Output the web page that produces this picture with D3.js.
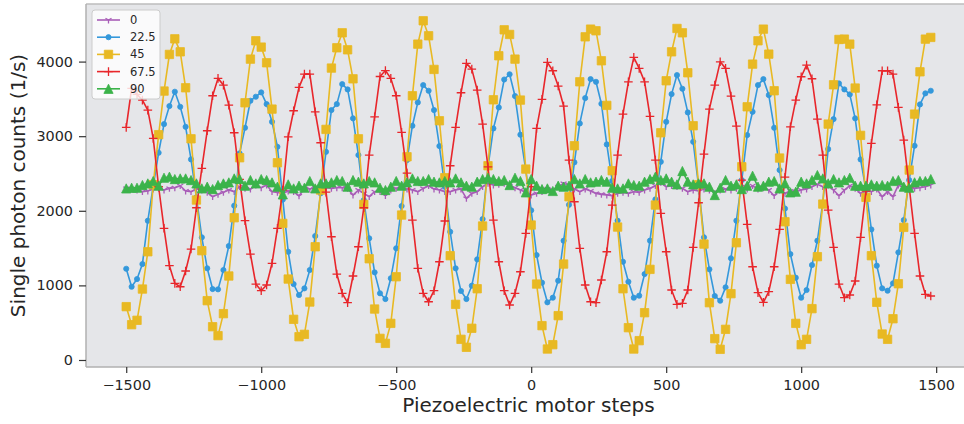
<!DOCTYPE html>
<html>
<head>
<meta charset="utf-8">
<script src="https://cdn.jsdelivr.net/npm/d3@7/dist/d3.min.js"></script>
<style>
    body { margin: 0; background: #fff; }
    svg text { font-family: "DejaVu Sans", sans-serif; fill: #262626; }
</style>
</head>
<body>
<div id="chart"></div>
<script>
// passi del motore piezoelettrico (asse x)
const steps = [
    -1500, -1480, -1460, -1440, -1420, -1400, -1380, -1360, -1340, -1320,
    -1300, -1280, -1260, -1240, -1220, -1200, -1180, -1160, -1140, -1120,
    -1100, -1080, -1060, -1040, -1020, -1000, -980, -960, -940, -920,
    -900, -880, -860, -840, -820, -800, -780, -760, -740, -720,
    -700, -680, -660, -640, -620, -600, -580, -560, -540, -520,
    -500, -480, -460, -440, -420, -400, -380, -360, -340, -320,
    -300, -280, -260, -240, -220, -200, -180, -160, -140, -120,
    -100, -80, -60, -40, -20, 0, 20, 40, 60, 80,
    100, 120, 140, 160, 180, 200, 220, 240, 260, 280,
    300, 320, 340, 360, 380, 400, 420, 440, 460, 480,
    500, 520, 540, 560, 580, 600, 620, 640, 660, 680,
    700, 720, 740, 760, 780, 800, 820, 840, 860, 880,
    900, 920, 940, 960, 980, 1000, 1020, 1040, 1060, 1080,
    1100, 1120, 1140, 1160, 1180, 1200, 1220, 1240, 1260, 1280,
    1300, 1320, 1340, 1360, 1380, 1400, 1420, 1440, 1460, 1480
];

// conteggi per angolo del polarizzatore
const counts0 = [
    2300, 2291, 2278, 2256, 2265, 2291, 2300, 2278, 2300, 2309,
    2336, 2265, 2256, 2291, 2278, 2247, 2189, 2220, 2247, 2278,
    2256, 2323, 2300, 2291, 2345, 2309, 2345, 2256, 2247, 2233,
    2265, 2256, 2200, 2300, 2291, 2309, 2291, 2309, 2300, 2309,
    2309, 2300, 2211, 2278, 2233, 2189, 2256, 2256, 2202, 2278,
    2300, 2323, 2291, 2278, 2256, 2300, 2336, 2291, 2278, 2256,
    2256, 2278, 2291, 2166, 2233, 2256, 2323, 2367, 2345, 2354,
    2367, 2336, 2309, 2278, 2247, 2211, 2233, 2256, 2291, 2278,
    2323, 2367, 2345, 2291, 2256, 2291, 2265, 2233, 2220, 2211,
    2202, 2233, 2247, 2233, 2256, 2247, 2278, 2300, 2336, 2380,
    2323, 2336, 2323, 2300, 2256, 2278, 2265, 2291, 2278, 2256,
    2278, 2291, 2278, 2300, 2323, 2291, 2336, 2291, 2309, 2278,
    2202, 2278, 2233, 2265, 2256, 2278, 2291, 2323, 2354, 2323,
    2345, 2278, 2202, 2278, 2336, 2300, 2233, 2265, 2256, 2291,
    2189, 2256, 2189, 2345, 2309, 2291, 2300, 2309, 2323, 2345
];

const counts22 = [
    1223, 982, 1085, 1286, 1867, 2330, 2778, 3162, 3404, 3596,
    3394, 3126, 2689, 2180, 1644, 1229, 951, 947, 1206, 1528,
    2068, 2770, 3113, 3475, 3529, 3587, 3430, 3193, 2858, 2150,
    1451, 1018, 871, 960, 1206, 1662, 2234, 2791, 3350, 3430,
    3698, 3627, 3239, 2747, 2144, 1631, 1175, 894, 817, 1095,
    1497, 2064, 2680, 3140, 3453, 3685, 3609, 3350, 2868, 2322,
    1719, 1229, 925, 817, 996, 1349, 1889, 2590, 3104, 3386,
    3760, 3830, 3538, 3020, 2546, 2006, 1407, 1036, 773, 835,
    1063, 1599, 2081, 2649, 3171, 3511, 3765, 3729, 3435, 2890,
    2400, 1867, 1317, 1049, 835, 862, 1152, 1600, 2153, 2657,
    3193, 3564, 3819, 3636, 3319, 2925, 2330, 1644, 1215, 858,
    795, 974, 1363, 1867, 2412, 3015, 3327, 3685, 3765, 3551,
    3113, 2546, 2030, 1420, 1103, 835, 938, 1273, 1599, 2104,
    2827, 3229, 3707, 3627, 3560, 3239, 2689, 2278, 1750, 1264,
    960, 929, 1027, 1443, 1876, 2412, 2872, 3426, 3574, 3609
];

const counts45 = [
    715, 473, 532, 951, 1451, 2350, 3020, 3605, 4096, 4305,
    4131, 3649, 2965, 2144, 1465, 795, 446, 326, 621, 1126,
    1907, 2711, 3448, 4033, 4279, 4194, 3984, 3363, 2644, 1831,
    1085, 545, 312, 344, 777, 1518, 2278, 3091, 3913, 4185,
    4386, 4158, 3769, 2965, 2086, 1357, 683, 290, 223, 491,
    1116, 1943, 2724, 3542, 4234, 4547, 4346, 3895, 3207, 2443,
    1398, 746, 277, 170, 425, 955, 1796, 2604, 3488, 4078,
    4426, 4364, 4033, 3484, 2559, 1809, 1018, 460, 147, 205,
    594, 1286, 2188, 2872, 3729, 4332, 4435, 4413, 4011, 3413,
    2537, 1782, 955, 433, 147, 259, 634, 1215, 2077, 3046,
    3743, 4131, 4444, 4386, 3850, 3140, 2350, 1554, 768, 286,
    143, 411, 889, 1572, 2590, 3394, 3966, 4279, 4435, 4100,
    3609, 2707, 1853, 1081, 491, 205, 277, 688, 1385, 2090,
    3162, 3689, 4297, 4301, 4234, 3645, 3011, 2180, 1398, 773,
    348, 277, 553, 1022, 1778, 2546, 3296, 3863, 4301, 4324
];

const counts67 = [
    3118, 3640, 3560, 3484, 3350, 2970, 2322, 1765, 1264, 1027,
    982, 1193, 1487, 2041, 2569, 3073, 3542, 3775, 3685, 3417,
    3046, 2420, 1867, 1420, 1018, 929, 1005, 1296, 1765, 2278,
    2992, 3341, 3654, 3832, 3832, 3327, 2912, 2250, 1652, 1152,
    894, 768, 1126, 1518, 2041, 2747, 3260, 3800, 3880, 3775,
    3542, 3051, 2506, 1876, 1229, 894, 781, 929, 1317, 1863,
    2604, 3118, 3582, 3976, 3899, 3618, 3162, 2590, 1876, 1317,
    929, 737, 894, 1183, 1697, 2322, 3104, 3493, 3989, 3877,
    3672, 3404, 2680, 2121, 1497, 1005, 781, 768, 1072, 1451,
    2077, 2747, 3296, 3729, 4056, 3909, 3729, 3265, 2680, 1966,
    1451, 938, 746, 760, 938, 1510, 2108, 2760, 3363, 3685,
    3997, 3909, 3538, 3136, 2412, 1818, 1250, 903, 773, 916,
    1250, 1751, 2450, 3126, 3484, 3797, 3953, 3770, 3229, 2747,
    2010, 1510, 1018, 835, 871, 1059, 1644, 2265, 2904, 3421,
    3877, 3877, 3832, 3386, 2948, 2322, 1697, 1126, 880, 858
];

const counts90 = [
    2300, 2309, 2309, 2345, 2367, 2399, 2336, 2443, 2457, 2425,
    2434, 2434, 2412, 2367, 2300, 2323, 2291, 2345, 2367, 2381,
    2434, 2425, 2336, 2412, 2367, 2425, 2412, 2381, 2323, 2220,
    2354, 2300, 2336, 2309, 2399, 2300, 2367, 2367, 2381, 2412,
    2399, 2323, 2412, 2390, 2367, 2399, 2381, 2309, 2278, 2323,
    2399, 2336, 2381, 2434, 2399, 2399, 2425, 2390, 2381, 2399,
    2381, 2434, 2381, 2336, 2323, 2390, 2425, 2443, 2425, 2399,
    2412, 2345, 2443, 2399, 2247, 2425, 2336, 2291, 2300, 2265,
    2336, 2323, 2336, 2425, 2367, 2425, 2381, 2390, 2412, 2390,
    2309, 2300, 2300, 2367, 2345, 2336, 2390, 2425, 2457, 2412,
    2434, 2390, 2354, 2533, 2390, 2354, 2367, 2367, 2323, 2211,
    2309, 2412, 2336, 2354, 2291, 2336, 2470, 2323, 2336, 2390,
    2399, 2300, 2367, 2247, 2256, 2390, 2367, 2412, 2479, 2434,
    2367, 2425, 2381, 2412, 2443, 2336, 2336, 2336, 2354, 2336,
    2345, 2336, 2399, 2412, 2323, 2309, 2381, 2399, 2399, 2425
];

const labels = ['0', '22.5', '45', '67.5', '90'];
const xTicks = [-1500, -1000, -500, 0, 500, 1000, 1500];
const yTicks = [0, 1000, 2000, 3000, 4000];

// forme dei marker (stile matplotlib)
const markerPaths = {
    tri: 'M0,0L0,3.4M0,0L-3,-1.7M0,0L3,-1.7',
    dot: 'M2.6,0A2.6,2.6 0 1,1 -2.6,0A2.6,2.6 0 1,1 2.6,0Z',
    square: 'M-4.2,-4.2H4.2V4.2H-4.2Z',
    plus: 'M-4.3,0H4.3M0,-4.3V4.3',
    tri_up: 'M0,-4.6L4.6,4.6H-4.6Z'
};

const series = [
    { label: labels[0], values: counts0, color: '#a95db8', marker: 'tri', filled: false },
    { label: labels[1], values: counts22, color: '#3498db', marker: 'dot', filled: true },
    { label: labels[2], values: counts45, color: '#e8b923', marker: 'square', filled: true },
    { label: labels[3], values: counts67, color: '#e8262b', marker: 'plus', filled: false },
    { label: labels[4], values: counts90, color: '#3bb34a', marker: 'tri_up', filled: true }
];

const W = 964, H = 424;
const plot = { left: 86, right: 971, top: 4, bottom: 367 };

const svg = d3.select('#chart').append('svg')
    .attr('width', W)
    .attr('height', H);

const x = d3.scaleLinear().domain([-1649, 1629]).range([plot.left, plot.right]);
const y = d3.scaleLinear().domain([-94, 4772]).range([plot.bottom, plot.top]);

// sfondo degli assi
svg.append('rect')
    .attr('x', plot.left).attr('y', plot.top)
    .attr('width', plot.right - plot.left)
    .attr('height', plot.bottom - plot.top)
    .attr('fill', '#e5e6e9');

svg.append('clipPath').attr('id', 'clip')
    .append('rect')
    .attr('x', plot.left).attr('y', plot.top)
    .attr('width', plot.right - plot.left)
    .attr('height', plot.bottom - plot.top);

// linee e marker
const line = d3.line()
    .x((d, i) => x(steps[i]))
    .y(d => y(d));

const dataG = svg.append('g').attr('clip-path', 'url(#clip)');

series.forEach(s => {
    const g = dataG.append('g');
    g.append('path')
        .datum(s.values)
        .attr('d', line)
        .attr('fill', 'none')
        .attr('stroke', s.color)
        .attr('stroke-width', 1.6)
        .attr('stroke-linejoin', 'round');
    g.selectAll('.m')
        .data(s.values)
        .join('path')
        .attr('class', 'm')
        .attr('transform', (d, i) => `translate(${x(steps[i])},${y(d)})`)
        .attr('d', markerPaths[s.marker])
        .attr('fill', s.filled ? s.color : 'none')
        .attr('stroke', s.color)
        .attr('stroke-width', s.filled ? 0.8 : 1.3);
});

// spine
svg.append('line')
    .attr('x1', plot.left).attr('x2', plot.right)
    .attr('y1', plot.top).attr('y2', plot.top)
    .attr('stroke', '#bdbdbd').attr('stroke-width', 1.5);
svg.append('line')
    .attr('x1', plot.left).attr('x2', plot.right)
    .attr('y1', plot.bottom).attr('y2', plot.bottom)
    .attr('stroke', '#b0b0b0').attr('stroke-width', 1.5);
svg.append('line')
    .attr('x1', plot.left).attr('x2', plot.left)
    .attr('y1', plot.top).attr('y2', plot.bottom)
    .attr('stroke', '#b0b0b0').attr('stroke-width', 1.5);

// Assi
const xAxis = svg.append('g')
    .attr('transform', `translate(0,${plot.bottom})`)
    .call(d3.axisBottom(x)
        .tickValues(xTicks)
        .tickSize(6)
        .tickPadding(7)
        .tickFormat(d => d < 0 ? '\u2212' + Math.abs(d) : String(d)));

const yAxis = svg.append('g')
    .attr('transform', `translate(${plot.left},0)`)
    .call(d3.axisLeft(y)
        .tickValues(yTicks)
        .tickSize(7)
        .tickPadding(6)
        .tickFormat(d => String(d)));

[xAxis, yAxis].forEach(a => {
    a.select('.domain').remove();
    a.selectAll('.tick line').attr('stroke', '#333').attr('stroke-width', 1.2);
    a.selectAll('.tick text')
        .attr('font-size', 14.4)
        .attr('font-family', 'DejaVu Sans, sans-serif')
        .attr('fill', '#262626');
});

// Label
svg.append('text')
    .attr('x', (plot.left + plot.right) / 2)
    .attr('y', 412)
    .attr('text-anchor', 'middle')
    .attr('font-size', 20)
    .text('Piezoelectric motor steps');

svg.append('text')
    .attr('transform', `translate(25,${(plot.top + plot.bottom) / 2}) rotate(-90)`)
    .attr('text-anchor', 'middle')
    .attr('font-size', 20)
    .text('Single photon counts (1/s)');

// Legenda
const legend = svg.append('g').attr('class', 'legend');

legend.append('rect')
    .attr('x', 92).attr('y', 10)
    .attr('width', 68).attr('height', 89)
    .attr('rx', 3)
    .attr('fill', '#ffffff').attr('fill-opacity', 0.8)
    .attr('stroke', '#cccccc').attr('stroke-width', 1);

series.forEach((s, i) => {
    const ly = 20 + i * 17.2;
    const g = legend.append('g');
    g.append('line')
        .attr('x1', 97).attr('x2', 120)
        .attr('y1', ly).attr('y2', ly)
        .attr('stroke', s.color).attr('stroke-width', 1.6);
    g.append('path')
        .attr('transform', `translate(108.5,${ly})`)
        .attr('d', markerPaths[s.marker])
        .attr('fill', s.filled ? s.color : 'none')
        .attr('stroke', s.color)
        .attr('stroke-width', s.filled ? 0.8 : 1.3);
    g.append('text')
        .attr('x', 130)
        .attr('y', ly)
        .attr('dy', '0.35em')
        .attr('font-size', 11.5)
        .text(s.label);
});
</script>
</body>
</html>
